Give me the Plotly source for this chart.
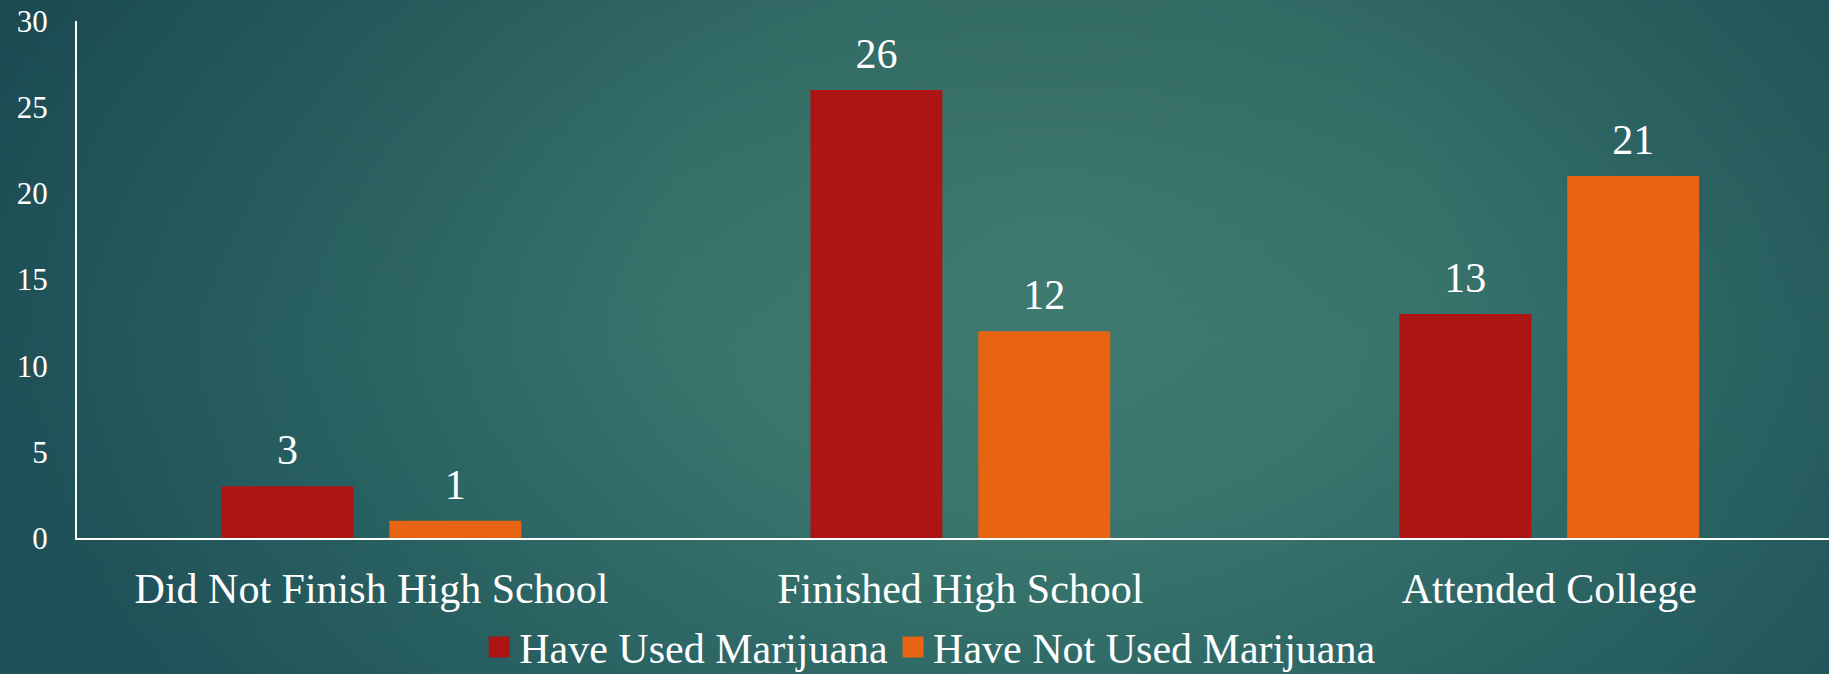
import base64
import plotly.graph_objects as go

categories = ["Did Not Finish High School", "Finished High School", "Attended College"]
used = [3, 26, 13]
not_used = [1, 12, 21]
series_names = ["Have Used Marijuana", "Have Not Used Marijuana"]
y_ticks = [0, 5, 10, 15, 20, 25, 30]

RED = "#AD1515"
ORANGE = "#E86412"
FONT = "Liberation Serif, Times New Roman, serif"

W, H = 1829, 674
ML, MR, MT, MB = 77, 0, 21, 136
PW, PH = W - ML - MR, H - MT - MB

svg = f'''<svg xmlns="http://www.w3.org/2000/svg" width="{W}" height="{H}" viewBox="0 0 {W} {H}" preserveAspectRatio="none">
<defs>
<radialGradient id="g" gradientUnits="userSpaceOnUse" cx="1050" cy="230" r="1080"
 gradientTransform="translate(1050,230) scale(1,0.73) translate(-1050,-230)">
<stop offset="0" stop-color="#437f74"/>
<stop offset="0.35" stop-color="#3b786f"/>
<stop offset="0.55" stop-color="#316b68"/>
<stop offset="0.7" stop-color="#2a6262"/>
<stop offset="0.85" stop-color="#245a5e"/>
<stop offset="1" stop-color="#1f5158"/>
</radialGradient>
<linearGradient id="t" x1="0" y1="0" x2="0" y2="1">
<stop offset="0" stop-color="#0a2a35" stop-opacity="0.18"/>
<stop offset="0.5" stop-color="#0a2a35" stop-opacity="0.04"/>
<stop offset="1" stop-color="#0a2a35" stop-opacity="0"/>
</linearGradient>
</defs>
<rect x="0" y="0" width="{W}" height="{H}" fill="url(#g)"/>
<rect x="0" y="0" width="{W}" height="{H}" fill="url(#t)"/></svg>'''
bg_uri = "data:image/svg+xml;base64," + base64.b64encode(svg.encode()).decode()

PADTXT = "<sub><span style='font-size:46px'>\u00a0</span></sub>"

fig = go.Figure()
for vals, nm, col in zip([used, not_used], series_names, [RED, ORANGE]):
    fig.add_trace(go.Bar(x=categories, y=vals, name=nm,
                         marker=dict(color=col, line=dict(width=0)),
                         texttemplate=PADTXT + "%{y}" + PADTXT, textposition="outside",
                         textfont=dict(size=42, color="white", family=FONT),
                         cliponaxis=False, showlegend=False, hoverinfo="skip"))
# legend entries
for nm, col in zip(series_names, [RED, ORANGE]):
    fig.add_trace(go.Scatter(x=[None], y=[None], mode="markers", name=nm,
                             marker=dict(symbol="square", size=16, color=col,
                                         line=dict(color=col, width=5))))

fig.update_layout(
    width=W, height=H,
    margin=dict(l=ML, r=MR, t=MT, b=MB, pad=0, autoexpand=False),
    paper_bgcolor="#2b6263", plot_bgcolor="rgba(0,0,0,0)",
    font=dict(family=FONT, color="white"),
    barmode="group", bargap=0.43, bargroupgap=0.214,
    showlegend=True,
    legend=dict(orientation="h", x=0.487, xanchor="center", y=-0.211, yanchor="middle",
                font=dict(size=42, color="white", family=FONT), bgcolor="rgba(0,0,0,0)",
                itemsizing="trace"),
    images=[dict(source=bg_uri, xref="paper", yref="paper",
                 x=-ML / PW, y=1 + MT / PH, sizex=W / PW, sizey=H / PH,
                 sizing="stretch", layer="below", xanchor="left", yanchor="top")],
)
fig.update_xaxes(categoryorder="array", categoryarray=categories, range=[-0.5, 2.475],
                 showline=True, linecolor="white", linewidth=2, ticks="",
                 showgrid=False, zeroline=False, automargin=False,
                 tickfont=dict(size=42, color="white", family=FONT), ticklabelstandoff=13)
fig.update_yaxes(range=[0, 30], tickvals=y_ticks, showline=True, linecolor="white", linewidth=2,
                 ticks="", showgrid=False, zeroline=False, automargin=False,
                 tickfont=dict(size=31, color="white", family=FONT), ticklabelstandoff=21)

fig.write_html("out.html", config={"displayModeBar": False},
               post_script="document.body.style.margin='0';document.body.style.overflow='hidden';")
